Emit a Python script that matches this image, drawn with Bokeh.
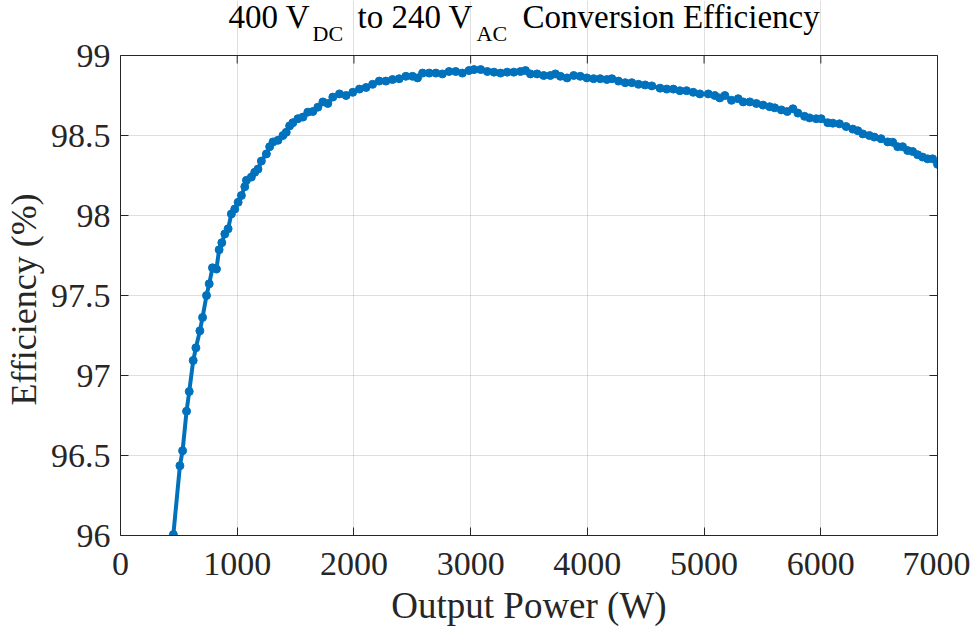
from bokeh.plotting import figure
from bokeh.models import (Range1d, FixedTicker, LinearAxis, CustomJSTickFormatter,
                          CustomLabelingPolicy, Label, Span)
from bokeh.embed import file_html
from bokeh.resources import INLINE

# ---- data ----
power_w = [453, 509, 532, 566, 589, 623, 646, 680, 703, 737, 760, 788, 822, 845, 868,
           894, 922, 950, 979, 1008, 1036, 1065, 1079, 1121, 1150, 1178, 1207, 1250, 1278,
           1307, 1349, 1392, 1420, 1449, 1477, 1520, 1563, 1605, 1648, 1691, 1734, 1776,
           1819, 1876, 1933, 1990, 2047, 2104, 2160, 2217, 2274, 2331, 2388, 2445, 2502,
           2545, 2588, 2645, 2702, 2758, 2815, 2872, 2929, 2986, 3029, 3086, 3143, 3200,
           3257, 3313, 3370, 3427, 3470, 3512, 3569, 3626, 3683, 3726, 3769, 3826, 3883,
           3939, 3996, 4053, 4110, 4167, 4210, 4267, 4324, 4381, 4438, 4495, 4552, 4623,
           4680, 4737, 4793, 4850, 4907, 4964, 5036, 5092, 5135, 5178, 5235, 5292, 5335,
           5392, 5448, 5505, 5562, 5605, 5662, 5713, 5761, 5804, 5861, 5904, 5961, 6003,
           6060, 6103, 6160, 6217, 6274, 6317, 6360, 6416, 6459, 6516, 6573, 6616, 6659,
           6701, 6744, 6787, 6830, 6872, 6915, 6958, 7000]
efficiency_pct = [96.006, 96.436, 96.53, 96.777, 96.90, 97.094, 97.173, 97.279, 97.363,
                  97.50, 97.573, 97.673, 97.665, 97.786, 97.83, 97.885, 97.917, 98.01,
                  98.04, 98.083, 98.125, 98.18, 98.22, 98.24, 98.27, 98.29, 98.34, 98.385,
                  98.43, 98.46, 98.47, 98.50, 98.52, 98.56, 98.58, 98.605, 98.615, 98.646,
                  98.65, 98.677, 98.71, 98.70, 98.74, 98.76, 98.75, 98.77, 98.79, 98.80,
                  98.82, 98.84, 98.84, 98.85, 98.855, 98.87, 98.87, 98.86, 98.89, 98.89,
                  98.89, 98.885, 98.90, 98.90, 98.89, 98.906, 98.912, 98.912, 98.90, 98.896,
                  98.89, 98.896, 98.896, 98.90, 98.906, 98.885, 98.885, 98.875, 98.875,
                  98.885, 98.87, 98.86, 98.875, 98.87, 98.86, 98.855, 98.855, 98.85, 98.855,
                  98.84, 98.83, 98.83, 98.82, 98.816, 98.81, 98.796, 98.79, 98.79, 98.78,
                  98.78, 98.77, 98.76, 98.76, 98.75, 98.735, 98.75, 98.72, 98.73, 98.71,
                  98.71, 98.70, 98.69, 98.68, 98.673, 98.66, 98.65, 98.667, 98.64, 98.62,
                  98.61, 98.605, 98.605, 98.58, 98.577, 98.573, 98.556, 98.54, 98.53, 98.51,
                  98.50, 98.49, 98.48, 98.46, 98.458, 98.43, 98.43, 98.406, 98.40, 98.38,
                  98.365, 98.354, 98.354, 98.32]
x_ticks = [0, 1000, 2000, 3000, 4000, 5000, 6000, 7000]
y_ticks = [96, 96.5, 97, 97.5, 98, 98.5, 99]
title_parts = ["400 V", "DC", "to 240 V", "AC", "Conversion Efficiency"]
x_label = "Output Power (W)"
y_label = "Efficiency (%)"

# ---- layout constants (pixels) ----
W, H = 970, 629
FL, FR, FT, FB = 117, 937, 55, 535   # axes box edges in window pixels
X0, X1, Y0, Y1 = 0, 7000, 96, 99
PX_PER_Y = (FB - FT) / (Y1 - Y0)
Y_TOP = Y1 + FT / PX_PER_Y          # frame extends up to the window top (title area)
TICK_LEN = 8
AX_COLOR = "#262626"
LINE_COLOR = "#0072BD"
SERIF = "Liberation Serif"

p = figure(width=W, height=H, title=None, x_range=Range1d(X0, X1), y_range=Range1d(Y0, Y_TOP),
           output_backend="svg", toolbar_location=None,
           min_border_left=FL, min_border_right=W - FR,
           min_border_top=0, min_border_bottom=H - FB)
p.outline_line_color = None
p.background_fill_color = "white"

# title with subscripts, positioned in canvas pixels (inside the frame, so not clipped)
t_x = [228, 312, 357, 476, 522]
t_y = [16, 33, 16, 33, 16]
t_size = ["33px", "22px", "33px", "22px", "33px"]
for txt, xx, yy, fs in zip(title_parts, t_x, t_y, t_size):
    p.add_layout(Label(x=xx, y=yy, x_units="canvas", y_units="canvas", text=txt,
                       text_font=SERIF, text_font_size=fs, text_color="#000000",
                       text_align="left", text_baseline="alphabetic"))

xt = FixedTicker(ticks=x_ticks)
yt = FixedTicker(ticks=y_ticks)
fmt = CustomJSTickFormatter(code="return tick.toString();")
no_labels = CustomLabelingPolicy(code="return new Set();")

p.xaxis.ticker = xt
p.yaxis.ticker = yt
p.xgrid.ticker = xt
p.ygrid.ticker = yt
p.xgrid.bounds = (Y0, Y1)
p.yaxis.formatter = fmt
p.xaxis.formatter = fmt
for g in (p.xgrid, p.ygrid):
    g.grid_line_color = AX_COLOR
    g.grid_line_alpha = 0.15
    g.grid_line_width = 1

for ax in (p.xaxis[0], p.yaxis[0]):
    ax.axis_line_color = AX_COLOR
    ax.axis_line_width = 1
    ax.major_tick_line_color = AX_COLOR
    ax.major_tick_in = TICK_LEN
    ax.major_tick_out = 0
    ax.minor_tick_line_color = None
    ax.major_label_text_font = SERIF
    ax.major_label_text_font_size = "34px"
    ax.major_label_text_color = AX_COLOR
    ax.axis_label_text_font = SERIF
    ax.axis_label_text_font_style = "normal"
    ax.axis_label_text_color = AX_COLOR

p.yaxis.bounds = (Y0, Y1)
p.xaxis.axis_label = x_label
# trailing no-break spaces re-centre the label on the axes box (frame also holds the title)
p.yaxis.axis_label = y_label + "\u00a0" * 7
p.xaxis.axis_label_text_font_size = "37px"
p.yaxis.axis_label_text_font_size = "36px"
p.xaxis.major_label_standoff = 17
p.xaxis.axis_label_standoff = 7
p.yaxis.major_label_standoff = 10
p.yaxis.axis_label_standoff = 4

right = LinearAxis(ticker=yt, bounds=(Y0, Y1), major_label_policy=no_labels,
                   major_label_standoff=0, major_tick_in=TICK_LEN, major_tick_out=0,
                   minor_tick_line_color=None,
                   axis_line_color=AX_COLOR, major_tick_line_color=AX_COLOR)
p.add_layout(right, "right")

# top edge of the axes box with inward ticks at the x tick positions
p.add_layout(Span(location=Y1, dimension="width", line_color=AX_COLOR, line_width=1))
tick_len_y = TICK_LEN / PX_PER_Y
p.segment(x0=x_ticks, y0=[Y1] * len(x_ticks), x1=x_ticks,
          y1=[Y1 - tick_len_y] * len(x_ticks), line_color=AX_COLOR, line_width=1)

p.line(power_w, efficiency_pct, line_width=4, line_color=LINE_COLOR)
p.scatter(power_w, efficiency_pct, size=8, fill_color=LINE_COLOR, line_color=LINE_COLOR)

open("out.html", "w").write(file_html(p, INLINE))
